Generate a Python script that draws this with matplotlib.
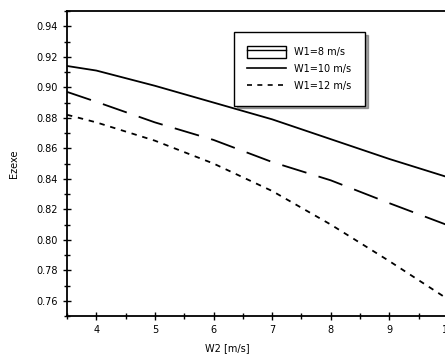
import matplotlib.pyplot as plt
from matplotlib.lines import Line2D
from matplotlib.patches import Patch
from matplotlib.ticker import MultipleLocator

# W2 speed [m/s]
w2 = [3.5, 4, 5, 6, 7, 8, 9, 10]
# curves
top_solid = [0.914, 0.911, 0.901, 0.890, 0.879, 0.866, 0.853, 0.841]
mid_dash = [0.897, 0.8905, 0.877, 0.8655, 0.851, 0.839, 0.824, 0.8095]
low_dash = [0.882, 0.877, 0.865, 0.850, 0.832, 0.810, 0.786, 0.761]

labels = ['W1=8 m/s', 'W1=10 m/s', 'W1=12 m/s']

fig = plt.figure(figsize=(4.45, 3.6), dpi=100)
ax = fig.add_axes([0.1506, 0.1222, 0.856, 0.847])

ax.plot(w2, top_solid, color='black', lw=1.3)
ax.plot(w2, mid_dash, color='black', lw=1.3, dashes=(14, 7))
ax.plot(w2, low_dash, color='black', lw=1.3, dashes=(3, 3.2))

ax.set_xlim(3.5, 10)
ax.set_ylim(0.75, 0.95)
ax.xaxis.set_major_locator(MultipleLocator(1))
ax.xaxis.set_minor_locator(MultipleLocator(0.5))
ax.yaxis.set_major_locator(MultipleLocator(0.02))
ax.yaxis.set_minor_locator(MultipleLocator(0.01))
ax.tick_params(which='major', direction='inout', length=6, width=1, labelsize=7)
ax.tick_params(which='minor', direction='inout', length=4, width=1)
ax.set_xticks([4, 5, 6, 7, 8, 9, 10])
ax.set_xticklabels(['4', '5', '6', '7', '8', '9', '10'])
ax.yaxis.set_major_formatter(plt.FuncFormatter(lambda v, p: f'{v:.2f}'))
for s in ax.spines.values():
    s.set_linewidth(1.3)

ax.set_xlabel('W2 [m/s]', fontsize=7)
ax.set_ylabel('Ezexe', fontsize=7)
ax.xaxis.set_label_coords(0.42, -0.09)
ax.yaxis.set_label_coords(-0.125, 0.5)

handles = [
    (Patch(facecolor='white', edgecolor='black'), Line2D([], [], color='black', lw=1)),
    Line2D([], [], color='black', lw=1.2),
    Line2D([], [], color='black', lw=1.2, dashes=(3, 3.2)),
]
leg = ax.legend(handles, labels, loc='upper left', bbox_to_anchor=(0.438, 0.931),
                fontsize=7, frameon=True, fancybox=False, shadow=True,
                handlelength=4.0, handleheight=1.5, labelspacing=0.55,
                borderpad=1.4, borderaxespad=0, handletextpad=0.8)
leg.get_frame().set_edgecolor('black')
leg.get_frame().set_linewidth(1)

fig.savefig('out.png', dpi=100)
